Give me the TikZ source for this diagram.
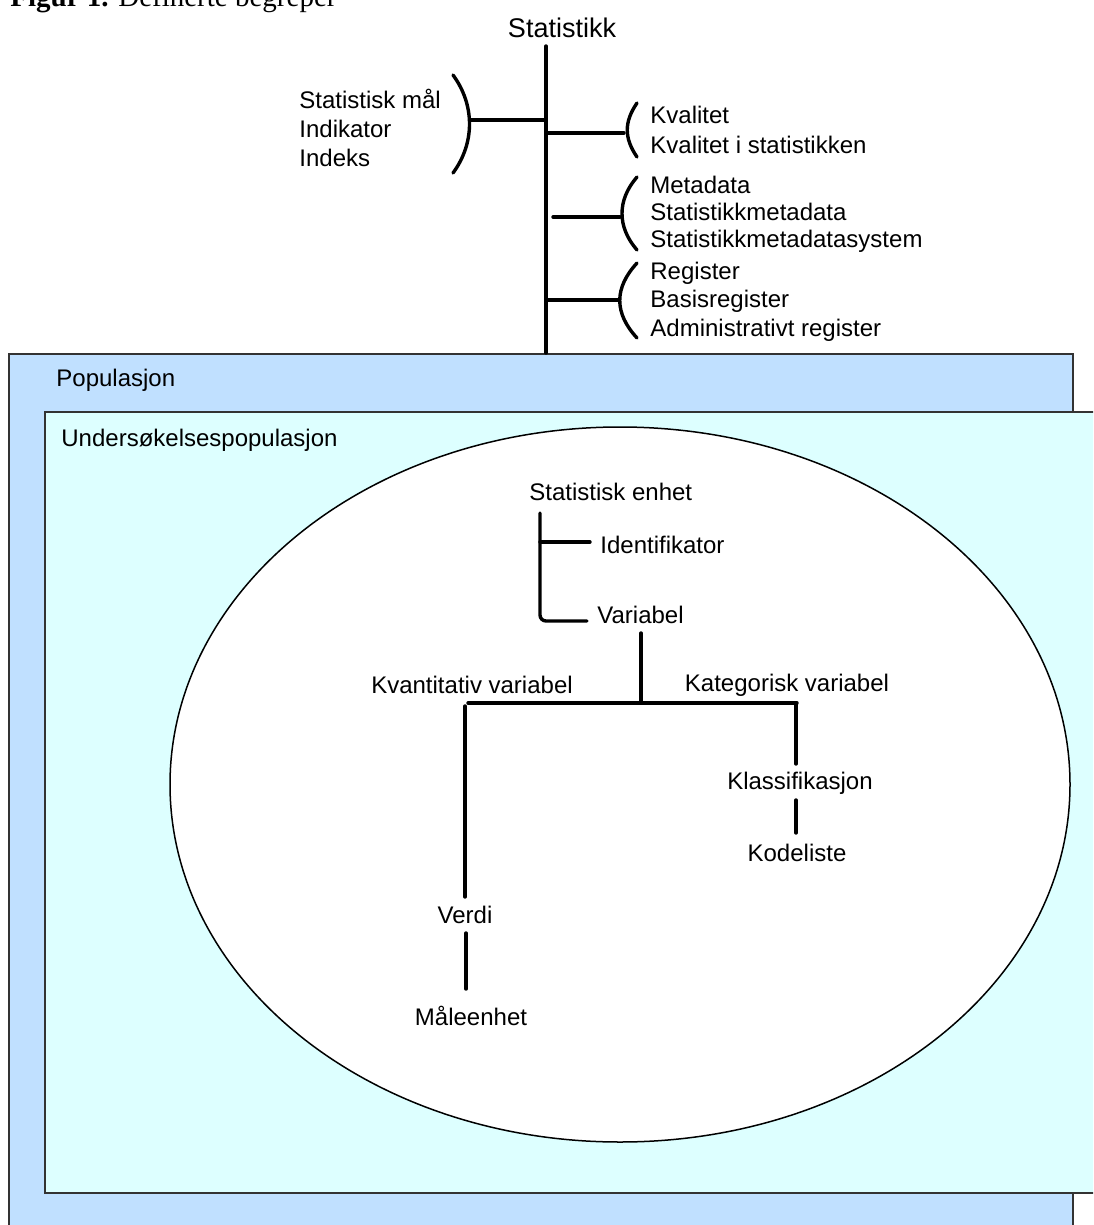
\documentclass[tikz,border=0pt]{standalone}
\usepackage{fontspec}
\setmainfont{Liberation Sans}
\newfontfamily\capfont{Liberation Serif}
\usetikzlibrary{positioning}
\definecolor{popblue}{HTML}{C0E0FF}
\definecolor{undcyan}{HTML}{DDFFFF}
\definecolor{edge}{HTML}{333333}

\begin{document}
\begin{tikzpicture}[x=0.5pt,y=-0.5pt,font=\fontsize{12}{14.5}\selectfont,
  lbl/.style={inner sep=0pt,anchor=center},
  grp/.style={inner sep=0pt,anchor=west,align=left},
  tr/.style={line width=1.7pt,line cap=round},
  box/.style={draw=edge,line width=0.9pt}]
\useasboundingbox (0,0) rectangle (1093,1225);
\clip (0,0) rectangle (1093,1225);
% caption, cut off at the top edge
\node[inner sep=0pt,anchor=base west,font=\capfont\fontsize{14.5}{16}\selectfont] (cap) at (10,7) {\textbf{Figur 1.} Definerte begreper};
% population boxes and ellipse
\draw[box,fill=popblue] (9,354) rectangle (1073,1240);
\draw[box,fill=undcyan] (45,412) rectangle (1100,1193);
\node[grp] (pop) at (56,380) {Populasjon};
\node[grp] (und) at (61,440) {Undersøkelsespopulasjon};
\draw[line width=0.75pt,fill=white] (620,784.5) ellipse [x radius=225pt,y radius=178.75pt];
% top: statistikk trunk
\node[lbl,font=\fontsize{13.5}{16}\selectfont] (stat) at (562,28) {Statistikk};
\coordinate (ttop) at (546,46);
\coordinate (tbot) at (546,353);
\draw[tr] (ttop) -- (tbot);
% left group
\node[grp] (maal) at (299,127.5) {Statistisk mål\\Indikator\\Indeks};
\draw[tr] (453,75) .. controls (475,105) and (475,143) .. (453,173);
\coordinate (lb) at (470,120);
\coordinate (tl) at (546,120);
\draw[tr] (lb) -- (tl);
% right groups
\node[grp,font=\fontsize{12}{15}\selectfont] (kval) at (650,130) {Kvalitet\\Kvalitet i statistikken};
\node[grp,font=\fontsize{12}{13.5}\selectfont] (meta) at (650,214) {Metadata\\Statistikkmetadata\\Statistikkmetadatasystem};
\node[grp,font=\fontsize{12}{14.25}\selectfont] (reg) at (650,301.5) {Register\\Basisregister\\Administrativt register};
\draw[tr] (637,103) .. controls (624,122) and (624,138) .. (637,157);
\draw[tr] (637,177) .. controls (617,200) and (617,227) .. (637,250);
\draw[tr] (637,263) .. controls (614,288) and (614,313) .. (637,338);
\coordinate (k0) at (546,133);  \coordinate (k1) at (624,133);
\coordinate (m0) at (553,217);  \coordinate (m1) at (620,217);
\coordinate (r0) at (546,300);  \coordinate (r1) at (618,300);
\draw[tr] (k0) -- (k1);
\draw[tr] (m0) -- (m1);
\draw[tr] (r0) -- (r1);
% inside the ellipse
\node[grp] (enh) at (529,492) {Statistisk enhet};
\node[grp] (ident) at (600,545) {Identifikator};
\node[grp] (var) at (597,615) {Variabel};
\draw[tr,rounded corners=3pt] (540,513) -- (540,621) -- (587,621);
\draw[tr] (540,542) -- (590,542);
\node[lbl] (kvant) at (472,685) {Kvantitativ variabel};
\node[lbl] (kateg) at (787,685) {Kategorisk variabel};
\coordinate (split) at (641,703);
\draw[tr] (641,633) -- (split);
\draw[tr] (468,703) -- (797,703);
\node[lbl] (verdi) at (465,915) {Verdi};
\node[lbl] (maale) at (471,1016) {Måleenhet};
\node[lbl] (klass) at (800,783) {Klassifikasjon};
\node[lbl] (kode) at (797,853) {Kodeliste};
\draw[tr] (465,706) -- (465,897);
\draw[tr] (466,933) -- (466,989);
\draw[tr] (796,703) -- (796,764);
\draw[tr] (796,800) -- (796,833);
\end{tikzpicture}
\end{document}
